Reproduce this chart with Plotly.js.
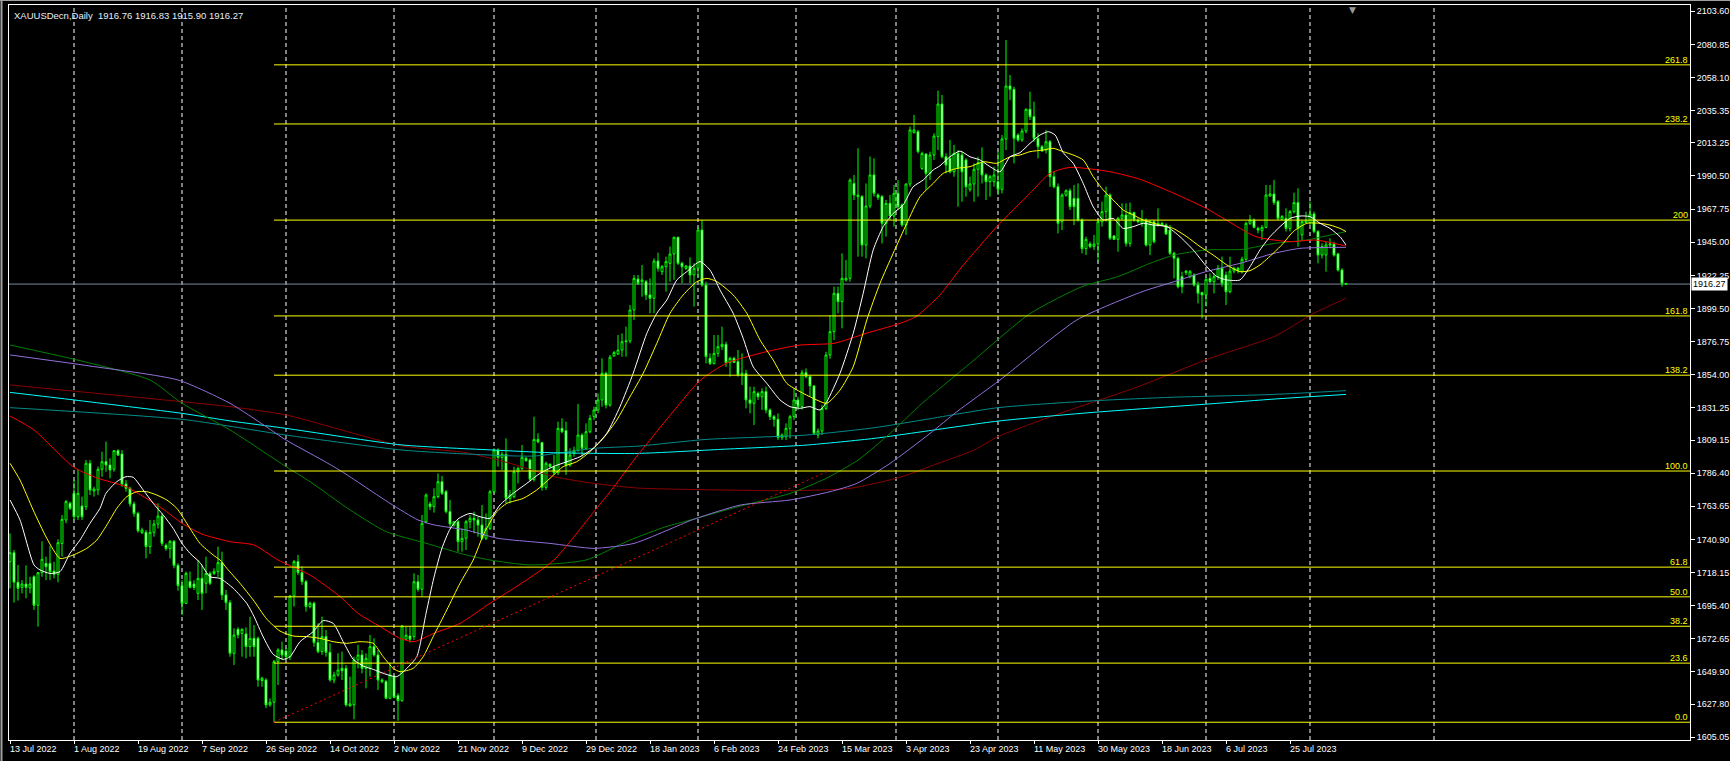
<!DOCTYPE html>
<html><head><meta charset="utf-8">
<script src="https://cdn.plot.ly/plotly-3.0.1.min.js"></script>
<style>html,body{margin:0;padding:0;background:#000;}#chart{width:1730px;height:761px;}</style>
</head><body><div id="chart"></div>
<script>
// ---- Bar data (one bar per index, 0 = 13 Jul 2022) ----
const openP=[1725.6,1731.8,1711.5,1708.0,1710.3,1707.6,1715.3,1695.7,1718.1,1724.5,
1724.5,1719.2,1717.0,1738.2,1754.3,1765.7,1772.6,1756.5,1763.9,1763.4,
1793.2,1774.2,1774.9,1789.1,1794.3,1792.0,1789.1,1801.9,1799.6,1779.0,
1776.0,1765.3,1758.8,1745.6,1745.8,1736.0,1745.8,1751.5,1757.0,1736.9,
1734.6,1739.6,1723.1,1709.2,1697.0,1712.1,1710.3,1703.9,1714.2,1710.8,
1717.6,1717.6,1718.8,1725.0,1702.8,1697.5,1662.7,1679.2,1676.4,1676.0,
1667.3,1673.0,1673.0,1644.0,1644.4,1627.3,1629.1,1657.0,1665.0,1664.3,
1660.4,1702.1,1725.7,1718.1,1711.9,1694.8,1697.1,1670.1,1663.9,1674.2,
1663.4,1644.4,1647.9,1652.4,1652.4,1626.6,1627.3,1658.2,1661.6,1652.4,
1652.4,1667.3,1661.6,1643.3,1643.3,1631.8,1646.7,1633.7,1630.2,1672.4,
1674.6,1674.2,1711.9,1706.7,1753.1,1765.2,1763.4,1770.3,1780.6,1773.7,
1760.0,1750.8,1753.1,1739.4,1741.7,1753.1,1755.4,1754.3,1750.8,1741.7,
1748.5,1773.7,1802.3,1797.3,1799.3,1769.1,1770.3,1787.4,1789.7,1796.6,
1795.5,1782.2,1809.6,1807.4,1776.7,1792.5,1790.9,1786.8,1817.2,1815.6,
1792.0,1800.0,1801.9,1812.6,1803.5,1814.9,1825.2,1829.8,1836.7,1855.0,
1833.2,1866.9,1868.2,1871.0,1876.7,1877.2,1898.5,1919.7,1917.9,1917.9,
1908.8,1906.5,1932.1,1924.8,1928.2,1930.5,1936.9,1948.4,1930.5,1927.1,
1928.7,1922.5,1927.1,1953.4,1915.6,1865.3,1861.8,1868.7,1873.3,1874.9,
1862.3,1865.3,1863.0,1853.8,1855.0,1836.7,1834.4,1841.2,1838.9,1842.4,
1829.8,1825.2,1823.4,1811.0,1811.5,1817.2,1825.2,1836.7,1832.1,1855.4,
1852.7,1846.3,1812.6,1815.4,1830.9,1867.6,1883.6,1909.9,1904.2,1919.1,
1920.2,1985.4,1976.3,1976.3,1943.1,1969.9,1991.2,1977.4,1976.3,1958.0,
1971.7,1963.0,1978.6,1970.6,1956.8,1985.0,2020.2,2020.9,1995.7,2005.6,
1992.3,2004.9,2017.5,2039.9,2003.7,2002.6,1993.4,2006.0,2004.9,2001.5,
1981.3,1985.0,1995.1,1999.6,1991.2,1986.6,1986.6,1986.6,1981.3,2015.9,
2052.3,2050.0,2018.6,2015.2,2021.4,2036.3,2031.2,2016.3,2010.6,2008.3,
2014.0,1990.0,1983.1,1959.1,1977.4,1980.4,1975.1,1975.1,1960.3,1940.6,
1943.8,1942.0,1943.8,1959.1,1966.0,1977.4,1949.3,1947.0,1961.4,1963.7,
1944.2,1965.3,1960.3,1958.0,1960.3,1943.1,1959.1,1956.8,1957.9,1956.8,
1953.4,1937.4,1934.0,1921.4,1924.1,1921.4,1922.5,1915.6,1910.4,1908.8,
1920.2,1917.9,1921.4,1927.1,1922.5,1911.0,1925.2,1927.1,1924.8,1933.3,
1958.0,1960.3,1954.5,1952.9,1955.2,1976.7,1978.1,1972.9,1960.7,1961.4,
1954.5,1966.0,1972.2,1950.0,1958.4,1958.4,1964.4,1952.3,1936.2,1936.2,
1943.1,1943.8,1936.9,1925.9,1916.76];
const highP=[1745.1,1733.7,1723.4,1713.0,1723.1,1715.3,1716.3,1718.5,1739.6,1729.1,
1736.6,1725.6,1741.0,1757.7,1768.0,1766.9,1781.7,1788.6,1770.3,1795.5,
1795.5,1777.1,1790.9,1801.2,1808.1,1796.6,1802.3,1802.8,1802.3,1781.7,
1777.1,1766.9,1760.0,1749.0,1747.4,1754.3,1754.3,1765.7,1758.8,1738.2,
1740.5,1740.5,1724.5,1713.0,1718.8,1718.8,1713.0,1726.8,1723.4,1729.1,
1718.8,1721.1,1736.0,1732.5,1706.2,1699.3,1679.9,1680.6,1679.9,1680.6,
1687.9,1682.2,1674.2,1646.7,1645.6,1631.8,1658.2,1666.2,1670.7,1666.2,
1702.8,1726.8,1730.3,1722.3,1713.1,1698.2,1698.2,1683.3,1687.9,1678.8,
1669.6,1650.1,1662.7,1663.9,1654.7,1646.7,1660.4,1668.5,1665.0,1662.7,
1675.3,1673.0,1665.0,1645.6,1644.4,1656.3,1647.9,1635.3,1682.2,1681.1,
1681.1,1717.7,1716.5,1757.7,1772.6,1766.8,1776.0,1786.3,1784.5,1774.9,
1768.0,1753.1,1754.3,1748.5,1754.3,1757.7,1760.0,1756.5,1764.6,1758.8,
1774.9,1803.5,1803.5,1801.2,1810.3,1774.9,1790.9,1790.9,1805.8,1797.7,
1796.6,1825.2,1813.8,1808.0,1794.3,1793.2,1798.9,1821.8,1824.1,1821.8,
1803.5,1804.6,1833.9,1813.8,1820.6,1826.4,1832.1,1841.2,1865.3,1856.1,
1867.6,1870.3,1881.3,1882.4,1887.0,1901.9,1922.5,1922.5,1929.4,1919.1,
1920.2,1933.9,1937.8,1929.4,1935.1,1942.0,1948.8,1948.8,1931.7,1929.4,
1934.6,1930.5,1955.7,1960.3,1917.9,1868.7,1881.3,1881.3,1887.0,1876.7,
1866.4,1866.4,1871.0,1868.7,1857.3,1845.8,1845.8,1842.4,1844.7,1845.8,
1830.9,1826.4,1827.5,1813.8,1820.6,1826.4,1844.7,1838.9,1857.3,1858.4,
1853.8,1847.0,1817.2,1833.2,1869.8,1895.0,1914.5,1914.5,1937.4,1932.8,
1988.9,1991.2,2009.5,1977.4,1985.4,2003.8,2002.6,1978.6,1977.4,1974.0,
1977.4,1984.3,1987.7,1971.7,1985.4,2024.4,2032.4,2022.1,2007.2,2006.0,
2007.2,2019.8,2049.1,2046.1,2006.0,2015.2,2011.8,2008.3,2007.2,2002.6,
1990.0,1999.2,2003.7,2010.2,1992.3,1991.2,1996.9,2007.2,2018.6,2083.9,
2059.8,2051.8,2019.8,2023.2,2036.9,2048.4,2041.5,2019.8,2011.8,2022.1,
2015.2,1993.4,1985.4,1978.6,1981.3,1982.0,1984.3,1985.4,1961.4,1948.8,
1945.4,1950.0,1960.3,1972.9,1983.1,1978.6,1950.0,1962.5,1971.7,1971.7,
1972.2,1966.0,1961.4,1967.1,1961.4,1960.3,1960.3,1968.3,1959.1,1958.0,
1956.8,1938.5,1935.1,1924.8,1925.9,1925.9,1923.6,1917.9,1911.0,1921.4,
1923.6,1923.6,1929.4,1935.1,1924.8,1935.1,1928.2,1928.2,1935.1,1959.1,
1963.7,1961.4,1955.7,1956.8,1984.3,1984.3,1987.7,1974.0,1963.7,1968.3,
1967.1,1979.0,1982.0,1960.3,1966.0,1972.9,1966.0,1953.4,1944.2,1945.4,
1947.7,1945.4,1937.8,1927.1,1916.83];
const lowP=[1707.3,1697.5,1698.9,1703.9,1700.5,1703.9,1692.5,1681.0,1715.3,1713.0,
1713.0,1714.2,1711.5,1729.1,1752.0,1761.1,1754.3,1754.3,1754.3,1761.1,
1771.4,1770.3,1771.4,1784.0,1787.4,1782.9,1787.4,1798.2,1777.1,1773.7,
1763.4,1756.5,1745.6,1744.6,1727.9,1730.9,1742.8,1748.5,1736.4,1733.2,
1727.9,1721.1,1705.7,1689.0,1696.6,1707.3,1706.2,1699.3,1692.5,1703.9,
1709.6,1716.5,1715.3,1699.3,1692.5,1660.4,1654.7,1673.0,1660.4,1659.3,
1660.4,1660.4,1639.8,1639.8,1625.0,1626.1,1615.4,1641.0,1658.2,1658.2,
1658.2,1694.8,1716.5,1709.7,1691.4,1693.6,1667.3,1662.7,1661.6,1660.4,
1643.3,1642.1,1646.7,1644.4,1626.1,1626.1,1617.4,1652.4,1649.0,1638.7,
1646.7,1660.4,1637.6,1642.1,1631.2,1631.2,1631.8,1616.5,1629.5,1671.9,
1670.1,1671.9,1705.1,1701.7,1752.0,1761.1,1759.3,1769.1,1771.4,1758.8,
1748.5,1749.7,1732.5,1732.5,1733.7,1748.5,1745.1,1742.8,1740.5,1740.5,
1747.4,1772.6,1790.9,1788.6,1765.7,1765.7,1769.1,1779.4,1788.6,1794.3,
1780.6,1780.6,1806.9,1774.4,1774.9,1789.7,1785.2,1785.2,1813.8,1785.2,
1790.9,1797.7,1801.2,1797.7,1802.3,1813.8,1822.9,1827.5,1832.1,1830.9,
1832.1,1866.4,1867.6,1866.4,1866.4,1875.6,1891.6,1915.6,1907.6,1905.3,
1896.2,1896.2,1924.8,1922.5,1911.1,1917.9,1919.1,1929.4,1916.8,1925.9,
1916.8,1900.8,1921.4,1914.5,1861.8,1860.7,1861.0,1866.4,1871.0,1859.5,
1852.7,1862.0,1852.7,1847.0,1830.9,1827.5,1819.5,1836.7,1829.8,1827.5,
1822.9,1818.3,1809.2,1809.2,1809.2,1810.3,1822.9,1829.8,1830.0,1851.5,
1838.9,1812.6,1810.3,1812.6,1829.8,1865.0,1877.8,1896.2,1885.9,1918.0,
1917.9,1974.0,1935.1,1935.1,1933.9,1968.3,1976.3,1974.0,1944.2,1948.8,
1960.3,1955.7,1967.1,1955.7,1950.0,1983.1,2019.8,2006.0,1994.6,1980.9,
1987.7,2001.5,2008.3,2002.6,1992.3,1992.3,1990.0,1969.4,1972.8,1976.3,
1979.7,1972.8,1976.3,1985.4,1974.0,1976.3,1983.1,1977.4,1978.6,2008.3,
2042.7,1999.2,2014.0,2014.0,2019.8,2028.9,2014.0,2002.6,2007.2,2006.0,
1983.1,1982.0,1951.1,1953.4,1976.3,1967.1,1956.8,1959.1,1937.4,1936.2,
1940.8,1939.7,1931.6,1955.7,1959.1,1946.5,1946.5,1938.5,1960.3,1942.0,
1942.0,1959.1,1958.0,1955.7,1942.0,1936.2,1944.2,1955.7,1956.1,1950.0,
1936.2,1920.2,1913.3,1909.9,1922.5,1920.2,1914.5,1903.0,1892.7,1900.8,
1916.8,1909.9,1919.1,1914.5,1901.9,1909.9,1923.6,1923.6,1923.6,1931.6,
1956.8,1954.5,1951.1,1946.5,1954.5,1976.3,1970.6,1960.3,1960.3,1952.3,
1952.3,1964.8,1942.0,1946.5,1958.0,1956.8,1951.1,1930.5,1933.9,1924.8,
1940.8,1935.1,1924.8,1914.5,1915.90];
const closeP=[1731.8,1711.5,1707.3,1710.3,1708.0,1710.3,1695.7,1718.1,1727.3,1722.2,
1718.8,1717.0,1738.7,1754.7,1766.9,1762.3,1756.5,1772.6,1756.5,1793.2,
1774.9,1775.5,1789.1,1794.3,1792.0,1788.6,1801.9,1798.9,1779.0,1776.0,
1765.3,1758.8,1746.9,1747.4,1736.0,1745.8,1751.5,1757.0,1738.2,1734.6,
1739.6,1723.1,1709.2,1697.0,1717.6,1708.0,1708.0,1714.2,1703.9,1717.6,
1710.8,1719.0,1725.0,1702.8,1697.5,1662.7,1675.3,1675.3,1679.2,1667.3,
1673.0,1667.3,1644.4,1645.6,1627.3,1629.1,1657.0,1665.0,1661.6,1660.4,
1702.1,1725.7,1718.1,1711.9,1694.8,1697.1,1670.1,1663.9,1674.2,1663.4,
1644.4,1647.9,1651.3,1650.8,1627.3,1628.0,1658.2,1661.6,1652.4,1659.3,
1667.3,1661.6,1644.4,1644.4,1631.8,1647.9,1632.5,1630.2,1681.5,1675.1,
1672.4,1711.9,1706.7,1752.0,1771.4,1763.4,1770.3,1780.6,1772.6,1760.0,
1751.5,1753.1,1739.4,1741.7,1753.1,1755.4,1754.3,1750.8,1741.7,1748.5,
1773.7,1802.3,1797.3,1799.3,1769.1,1771.4,1787.4,1789.7,1797.3,1795.0,
1782.2,1809.6,1808.0,1776.7,1793.2,1790.9,1786.8,1817.2,1814.9,1792.0,
1798.9,1801.9,1812.6,1803.5,1814.9,1824.1,1829.8,1836.7,1855.0,1833.2,
1866.0,1869.2,1871.0,1876.7,1877.2,1898.5,1920.2,1916.8,1919.1,1908.8,
1906.5,1932.1,1927.1,1928.2,1931.7,1936.9,1948.4,1930.5,1928.2,1928.7,
1922.5,1927.1,1953.4,1915.6,1866.4,1861.8,1868.7,1873.3,1874.9,1862.3,
1865.3,1862.5,1853.8,1855.0,1836.7,1834.4,1842.4,1838.9,1842.4,1829.8,
1825.2,1823.4,1811.0,1812.6,1817.2,1825.2,1836.7,1832.1,1855.4,1852.7,
1846.3,1813.8,1815.4,1830.9,1867.6,1883.6,1909.9,1904.2,1920.2,1920.2,
1987.7,1977.4,1977.4,1943.1,1969.9,1991.2,1978.6,1975.8,1958.0,1971.7,
1963.0,1978.6,1969.4,1956.8,1985.0,2022.1,2022.1,2007.2,2006.0,1992.3,
2004.9,2017.9,2039.9,2003.7,1998.0,1993.4,2006.0,1995.7,1993.4,1983.1,
1985.0,1995.1,1999.6,1991.2,1986.6,1990.0,1991.2,1981.3,2015.9,2052.3,
2050.0,2016.3,2015.2,2021.4,2036.3,2031.2,2016.3,2010.6,2007.6,2014.0,
1990.0,1983.1,1958.0,1977.4,1980.4,1969.4,1969.4,1960.3,1940.6,1947.0,
1942.0,1943.8,1959.1,1966.0,1977.4,1947.7,1947.0,1961.4,1963.7,1944.2,
1965.3,1960.3,1959.1,1960.3,1943.1,1959.1,1945.4,1958.0,1956.6,1950.7,
1937.4,1934.0,1914.5,1914.5,1925.2,1924.8,1915.6,1909.9,1908.8,1919.5,
1917.9,1921.4,1927.1,1916.8,1911.0,1925.2,1927.1,1925.5,1933.3,1958.0,
1960.3,1955.2,1953.4,1955.2,1977.4,1978.1,1972.2,1961.4,1962.6,1954.5,
1966.0,1972.2,1954.5,1959.1,1959.8,1964.4,1952.3,1936.2,1942.0,1943.1,
1943.8,1936.2,1925.9,1916.8,1916.27];

// ---- Moving average lines: [barIndex, price] ----
const maWhite=[[0,1768.0],[2.5,1754.3],[6,1723.4],[7.5,1720.0],[10,1717.6],[12.5,1718.8],[15,1731.4],[17.5,1740.5],[20,1752.0],[22.5,1762.3],[24,1772.6],[26.7,1780.6],[29,1784.0],[30.8,1783.6],[33.3,1774.9],[35.8,1765.7],[38.3,1757.7],[40.8,1748.5],[43,1738.2],[45,1731.4],[47.5,1725.0],[50,1715.3],[52.5,1714.2],[55.8,1707.4],[59.2,1697.0],[61,1688.0],[63.3,1674.0],[65.8,1662.0],[68.3,1658.6],[70,1660.4],[72.5,1670.7],[75.8,1677.6],[78.3,1685.2],[80.8,1683.3],[83.3,1670.7],[85.8,1658.6],[88.3,1654.0],[90.8,1651.7],[93.3,1649.0],[96.7,1646.7],[99.2,1652.4],[101.7,1660.4],[104,1690.0],[106,1715.0],[108,1735.0],[110,1748.0],[112,1755.0],[115,1758.8],[117.5,1756.5],[120,1755.4],[122.5,1764.6],[125.8,1772.6],[129.2,1779.4],[132.5,1786.3],[135.8,1790.9],[139.2,1794.3],[142.5,1797.7],[145.8,1803.5],[149.2,1813.8],[152.5,1832.1],[155.8,1855.0],[159.2,1882.4],[161.7,1896.2],[164.2,1905.3],[166.7,1919.1],[169.2,1924.8],[172.5,1931.7],[175,1925.9],[177.5,1912.2],[180.8,1896.2],[183.3,1879.0],[185.8,1859.5],[189.2,1848.1],[192.5,1836.7],[195,1832.1],[197.5,1831.0],[200,1832.1],[202.5,1829.8],[204.2,1835.5],[207.5,1855.0],[210.8,1882.4],[213.3,1909.9],[215.8,1939.7],[218.3,1955.7],[220.8,1964.8],[223.3,1970.6],[225.8,1983.1],[228.3,1987.7],[230.8,1994.6],[232.5,1997.5],[235,2003.7],[237.5,2007.6],[240,2003.7],[242.5,2001.5],[245,1996.9],[247.5,1993.4],[250,2003.7],[252.5,2006.5],[255,2012.9],[257.5,2018.6],[259.6,2020.9],[261.3,2018.6],[263.3,2006.5],[265.8,1999.2],[268.3,1985.4],[270.8,1969.4],[273.3,1960.3],[275.8,1961.4],[278.3,1954.5],[280.8,1955.7],[283.3,1958.0],[285.8,1956.8],[289.2,1955.7],[292.5,1948.8],[295.8,1939.7],[299.2,1928.2],[301.7,1921.4],[304.2,1919.1],[307.5,1919.1],[310,1928.2],[312.5,1939.7],[315,1948.8],[317.5,1955.7],[320,1961.4],[322.5,1963.0],[325,1962.6],[327.5,1958.0],[330,1954.5],[332.5,1948.8],[334,1943.1]];
const maYellow=[[0,1793.2],[2.5,1781.7],[5.8,1761.1],[9.2,1741.7],[12.5,1727.9],[15.8,1730.2],[19.2,1734.8],[21.7,1740.5],[24.2,1750.8],[26.7,1762.3],[29.2,1770.3],[31.7,1773.7],[34.2,1773.7],[36.7,1771.4],[39.2,1768.0],[41.7,1762.3],[44.2,1752.0],[47.5,1738.2],[50.8,1730.2],[52.5,1726.8],[54.2,1721.1],[57.5,1710.8],[60.8,1699.4],[64.2,1686.2],[67.5,1678.0],[70.8,1674.6],[74.2,1674.2],[77.5,1673.0],[80.8,1670.7],[84.2,1669.6],[87.5,1670.7],[90.8,1669.6],[93.3,1660.4],[95.8,1652.4],[97.5,1650.1],[100.8,1652.4],[103.3,1660.4],[105.8,1674.2],[109.2,1692.5],[112.5,1710.8],[115.8,1726.8],[118.5,1745.0],[121.7,1760.0],[124.2,1765.7],[128.3,1769.1],[131.7,1774.9],[135,1782.9],[138.3,1790.9],[141.7,1794.3],[145,1801.2],[148.3,1810.3],[151.7,1822.9],[155,1838.9],[158.3,1855.0],[161.7,1875.6],[165,1896.2],[168.3,1908.8],[171.7,1917.9],[174.2,1920.2],[176.7,1918.0],[180.8,1908.8],[184.2,1896.2],[187.5,1877.9],[190.8,1864.1],[194.2,1848.1],[197.5,1842.4],[200.8,1837.8],[204.2,1834.4],[207.5,1843.5],[210.8,1859.5],[214.2,1891.6],[217.5,1916.8],[220.8,1937.4],[224.2,1958.0],[227.5,1976.3],[230.8,1985.4],[233.3,1992.3],[236.7,1995.7],[240,1996.9],[243.3,2000.3],[246.7,1999.2],[250,2003.7],[252.5,2004.9],[255,2007.2],[258.3,2008.3],[260.8,2009.5],[263.3,2007.2],[265.8,2004.9],[268.3,2001.5],[270.8,1990.0],[273.3,1980.9],[275.8,1974.0],[278.3,1967.1],[280.8,1963.7],[283.3,1960.3],[287.5,1956.8],[290.8,1954.5],[294.2,1948.8],[297.5,1942.0],[300.8,1936.2],[304.2,1929.4],[307.5,1924.8],[310,1925.5],[312.5,1929.4],[315.8,1937.4],[318.3,1944.2],[320.8,1952.3],[324.2,1958.0],[327.5,1958.0],[330,1956.8],[332.5,1954.5],[334,1952.3]];
const maRed=[[0,1825.7],[6,1816.1],[16,1790.4],[22,1782.9],[29,1777.1],[38,1762.3],[43,1752.0],[48,1744.6],[55,1739.4],[61,1737.1],[67,1726.8],[75,1716.5],[82.5,1701.7],[87,1690.2],[92.5,1681.1],[97.5,1673.0],[101,1670.7],[106,1676.5],[112.5,1683.3],[120,1697.1],[128,1711.0],[136,1726.8],[146,1760.0],[151,1777.1],[156,1795.5],[161,1812.6],[167.5,1834.4],[172.5,1850.0],[179,1861.8],[189,1869.8],[197.5,1874.4],[206,1875.6],[214,1882.4],[222.5,1889.3],[226.5,1893.9],[232.5,1908.8],[238,1928.2],[246.7,1955.7],[255,1978.6],[260,1992.3],[265,1996.4],[275,1993.4],[282.5,1988.2],[291,1978.6],[299,1968.3],[304,1960.3],[311.5,1948.8],[320,1945.4],[326.5,1946.5],[334,1942.4]];
const maDarkRed=[[0,1847.0],[43,1835.5],[55,1832.1],[69,1826.4],[98,1805.1],[114,1800.5],[125,1793.2],[136,1784.0],[146,1779.4],[157,1776.2],[177,1774.9],[195,1774.4],[210,1776.0],[223,1784.0],[232,1793.1],[241,1802.3],[247,1811.5],[262,1827.0],[282,1845.8],[300,1865.3],[316,1880.2],[326,1896.2],[334,1906.5]];
const maGreen=[[0,1874.4],[17,1864.0],[35,1850.4],[43,1834.4],[55,1816.1],[69,1790.9],[75,1780.6],[85,1761.2],[94,1746.3],[104,1738.3],[114,1730.3],[120,1726.8],[130,1723.4],[144,1726.8],[155,1740.5],[164,1749.7],[170,1754.2],[182,1763.4],[195,1772.5],[204,1782.8],[212,1795.4],[220,1813.7],[228,1834.3],[241,1864.1],[255,1896.0],[268,1914.5],[277,1921.4],[285,1930.5],[291,1936.2],[299,1939.7],[308,1940.1],[316,1944.2],[324,1946.5],[334,1952.3]];
const maPurple=[[0,1867.6],[20,1860.0],[42,1850.4],[55,1834.4],[64,1818.4],[69,1809.2],[78,1795.5],[83,1787.5],[95,1765.7],[102,1754.3],[106,1750.9],[114,1747.4],[122,1741.7],[135,1738.2],[146,1734.8],[156,1738.2],[165,1748.0],[170.4,1754.2],[182.5,1764.5],[195,1768.0],[205,1773.7],[211.7,1779.4],[220,1793.1],[230,1813.7],[236.7,1828.6],[247.5,1850.4],[266.7,1891.6],[283,1911.0],[291,1917.9],[299,1924.8],[307.5,1930.5],[316,1937.4],[322.5,1940.8],[334,1941.5]];
const maCyan=[[0,1841.9],[16,1836.7],[43,1827.5],[55,1822.3],[69,1817.2],[98,1805.8],[121,1802.3],[135,1800.5],[157,1800.0],[178,1802.8],[199,1805.7],[216,1810.3],[228,1814.9],[247,1822.2],[270,1828.0],[300,1834.0],[317,1837.5],[334,1840.5]];
const maTeal=[[0,1831.4],[43,1823.4],[69,1812.6],[98,1802.3],[114,1799.6],[131,1798.2],[146,1803.5],[157,1805.0],[174,1809.6],[199,1812.6],[216,1817.6],[228,1822.9],[247,1831.4],[270,1836.0],[290,1838.5],[316,1840.5],[334,1843.1]];

// ---- Fibonacci object ----
const fibLabels=["0.0","23.6","38.2","50.0","61.8","100.0","138.2","161.8","200","238.2","261.8"];
const fibPrices=[1615.4,1656.0,1681.3,1701.5,1721.9,1787.9,1853.7,1894.4,1960.2,2026.2,2066.8];
const fibAnchorBars=[66,204.5];
const fibAnchorPrices=[1615.4,1787.9];

// ---- Axis labels ----
const xTickBars=[0,16,32,48,64,80,96,112,128,144,160,176,192,208,224,240,256,272,288,304,320];
const xTickLabels=["13 Jul 2022","1 Aug 2022","19 Aug 2022","7 Sep 2022","26 Sep 2022","14 Oct 2022","2 Nov 2022","21 Nov 2022","9 Dec 2022","29 Dec 2022","18 Jan 2023","6 Feb 2023","24 Feb 2023","15 Mar 2023","3 Apr 2023","23 Apr 2023","11 May 2023","30 May 2023","18 Jun 2023","6 Jul 2023","25 Jul 2023"];
const monthStartBars=[16,43,69,96,121,146.5,172,196.5,221.5,247,272,299,325,356];
const yTickLabels=["2103.60","2080.85","2058.10","2035.35","2013.25","1990.50","1967.75","1945.00","1922.25","1899.50","1876.75","1854.00","1831.25","1809.15","1786.40","1763.65","1740.90","1718.15","1695.40","1672.65","1649.90","1627.80","1605.05"];
const symbolInfo="XAUUSDecn,Daily  1916.76 1916.83 1915.90 1916.27";
const lastPrice=1916.27;
const shiftMarkerBar=335.5;

const n=Math.min(openP.length,highP.length,lowP.length,closeP.length);
const idx=[];for(let i=0;i<n;i++)idx.push(i);
const FONT="Liberation Sans, Arial, sans-serif";

const traces=[{
  type:'candlestick',x:idx,open:openP.slice(0,n),high:highP.slice(0,n),low:lowP.slice(0,n),close:closeP.slice(0,n),
  increasing:{line:{color:'#00ff00',width:1},fillcolor:'#000000'},
  decreasing:{line:{color:'#00ff00',width:1},fillcolor:'#ffffff'},
  whiskerwidth:0,hoverinfo:'skip',showlegend:false
}];
function ma(pairs,color){
  traces.push({type:'scatter',mode:'lines',x:pairs.map(p=>p[0]),y:pairs.map(p=>p[1]),
    line:{color:color,width:1,shape:'spline',smoothing:0.6},hoverinfo:'skip',showlegend:false});
}
ma(maDarkRed,'#8b0000');
ma(maTeal,'#008b8b');
ma(maCyan,'#00ffff');
ma(maGreen,'#008000');
ma(maPurple,'#9370db');
ma(maRed,'#ff0000');
ma(maYellow,'#ffff00');
ma(maWhite,'#ffffff');

const XMAX=420;
const shapes=[];
monthStartBars.forEach(b=>shapes.push({type:'line',xref:'x',yref:'paper',x0:b,x1:b,y0:0,y1:1,
  line:{color:'#ffffff',width:1,dash:'4px,3px'},layer:'below'}));
shapes.push({type:'line',xref:'x',yref:'y',x0:-1,x1:XMAX,y0:lastPrice,y1:lastPrice,line:{color:'#778899',width:1},layer:'below'});
fibPrices.forEach(p=>shapes.push({type:'line',xref:'x',yref:'y',x0:fibAnchorBars[0],x1:XMAX,y0:p,y1:p,
  line:{color:'#ffff00',width:1},layer:'above'}));
shapes.push({type:'line',xref:'x',yref:'y',x0:fibAnchorBars[0],y0:fibAnchorPrices[0],x1:fibAnchorBars[1],y1:fibAnchorPrices[1],
  line:{color:'#ff0000',width:1,dash:'2px,3px'},layer:'above'});
// window frame (gray) at top and left edge
shapes.push({type:'line',xref:'paper',yref:'paper',x0:-9/1681,x1:1+40/1681,y0:1+4.5/735,y1:1+4.5/735,line:{color:'#a0a0a0',width:1}});
shapes.push({type:'line',xref:'paper',yref:'paper',x0:-7.5/1681,x1:-7.5/1681,y0:-21/735,y1:1+5/735,line:{color:'#a0a0a0',width:2}});

const annotations=[];
xTickBars.forEach((b,i)=>annotations.push({xref:'x',yref:'paper',x:b,y:0,xanchor:'left',yanchor:'top',yshift:-2,xshift:-2,
  text:xTickLabels[i],showarrow:false,font:{family:FONT,size:9,color:'#ffffff'}}));
fibPrices.forEach((p,i)=>annotations.push({xref:'paper',yref:'y',x:1,y:p,xanchor:'right',yanchor:'bottom',xshift:0,yshift:-2,
  text:fibLabels[i],showarrow:false,font:{family:FONT,size:9,color:'#ffff00'}}));
annotations.push({xref:'paper',yref:'paper',x:0,y:1,xanchor:'left',yanchor:'top',xshift:3,yshift:-3,
  text:symbolInfo.replace(/  /g,'&nbsp;&nbsp;'),showarrow:false,font:{family:FONT,size:9.5,color:'#e8eef8'}});
annotations.push({xref:'paper',yref:'y',x:1,y:lastPrice,xanchor:'left',yanchor:'middle',xshift:1,
  text:lastPrice.toFixed(2),showarrow:false,bgcolor:'#ffffff',borderpad:1,font:{family:FONT,size:9,color:'#000000'}});
annotations.push({xref:'x',yref:'paper',x:shiftMarkerBar,y:1,xanchor:'center',yanchor:'top',yshift:2,
  text:'▼',showarrow:false,font:{family:'DejaVu Sans',size:9,color:'#9a9a9a'}});

const layout={
  width:1730,height:761,paper_bgcolor:'#000000',plot_bgcolor:'#000000',
  margin:{l:9,r:40,t:5,b:21},showlegend:false,dragmode:false,
  xaxis:{range:[-0.25,XMAX],showgrid:false,zeroline:false,showline:true,linecolor:'#ffffff',linewidth:1,mirror:true,
    tickmode:'array',tickvals:xTickBars,showticklabels:false,ticks:'outside',ticklen:3,tickcolor:'#ffffff',
    rangeslider:{visible:false},fixedrange:true},
  yaxis:{side:'right',range:[1603.2,2107.9],showgrid:false,zeroline:false,showline:true,linecolor:'#ffffff',linewidth:1,mirror:true,
    tickmode:'array',tickvals:yTickLabels.map(Number),ticktext:yTickLabels,ticks:'outside',ticklen:4,tickcolor:'#ffffff',
    tickfont:{family:FONT,size:9,color:'#ffffff'},fixedrange:true},
  shapes:shapes,annotations:annotations
};
Plotly.newPlot('chart',traces,layout,{staticPlot:true,displayModeBar:false});
</script></body></html>
